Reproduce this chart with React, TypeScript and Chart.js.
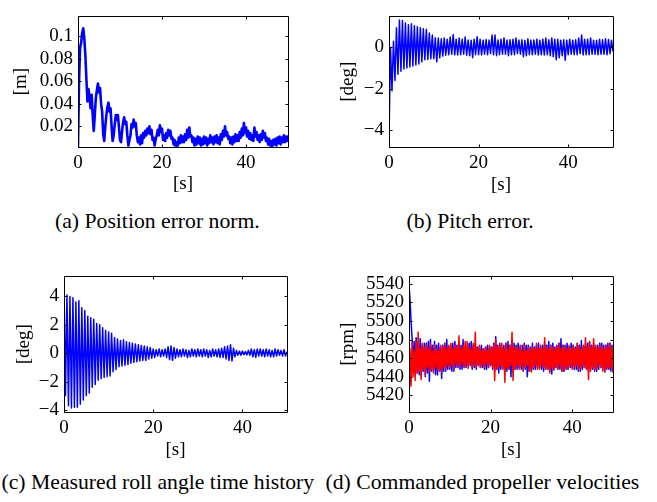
import React, { useEffect, useRef } from "react";
import { Chart, registerables } from "chart.js";

Chart.register(...registerables);

const SERIF = '"Liberation Serif", "Times New Roman", Times, serif';

// sampling steps (s)
const DT_POS = 0.25;
const DT_ATT = 1 / 3;
const DT_RPM = 0.25;

// (a) position error norm [m], sampled every 0.25 s
const POS_ERR = [
  0.002, 0.06, 0.09, 0.094,
  0.103, 0.107, 0.098, 0.083,
  0.062, 0.042, 0.053, 0.046,
  0.036, 0.048, 0.03, 0.016,
  0.03, 0.045, 0.052, 0.058,
  0.05, 0.054, 0.04, 0.033,
  0.013, 0.007, 0.02, 0.03,
  0.037, 0.041, 0.033, 0.036,
  0.02, 0.007, 0.012, 0.022,
  0.03, 0.026, 0.03, 0.019,
  0.008, 0.006, 0.016, 0.024,
  0.028, 0.022, 0.024, 0.012,
  0.003, 0.008, 0.012, 0.022,
  0.019, 0.026, 0.02, 0.023,
  0.012, 0.006, 0.01, 0.004,
  0.012, 0.005, 0.014, 0.01,
  0.016, 0.012, 0.018, 0.014,
  0.02, 0.013, 0.017, 0.008,
  0.01, 0.003, 0.009, 0.012,
  0.017, 0.012, 0.021, 0.015,
  0.018, 0.008, 0.012, 0.007,
  0.014, 0.01, 0.017, 0.012,
  0.016, 0.009, 0.01, 0.004,
  0.008, 0.002, 0.006, 0.003,
  0.01, 0.005, 0.012, 0.006,
  0.011, 0.006, 0.013, 0.008,
  0.017, 0.01, 0.019, 0.011,
  0.012, 0.006, 0.01, 0.003,
  0.009, 0.004, 0.011, 0.005,
  0.01, 0.003, 0.009, 0.004,
  0.011, 0.005, 0.01, 0.003,
  0.009, 0.005, 0.012, 0.006,
  0.01, 0.004, 0.011, 0.006,
  0.012, 0.005, 0.01, 0.004,
  0.013, 0.008, 0.016, 0.011,
  0.02, 0.012, 0.015, 0.009,
  0.011, 0.005, 0.01, 0.004,
  0.011, 0.006, 0.013, 0.007,
  0.012, 0.007, 0.015, 0.01,
  0.018, 0.012, 0.023, 0.014,
  0.019, 0.011, 0.016, 0.009,
  0.014, 0.008, 0.012, 0.007,
  0.019, 0.011, 0.015, 0.008,
  0.012, 0.006, 0.013, 0.008,
  0.016, 0.01, 0.014, 0.007,
  0.01, 0.004, 0.009, 0.003,
  0.007, 0.002, 0.008, 0.004,
  0.009, 0.003, 0.01, 0.005,
  0.011, 0.004, 0.01, 0.006,
  0.012, 0.006, 0.011, 0.007,
  0.012,
];

// (b) pitch error [deg], every 1/3 s
const PITCH_ERR = [
  -4.4, 0.0, -2.1, 0.3, -1.6, 0.95,
  -1.3, 1.33, -1.15, 1.3, -1.05, 1.18,
  -1.0, 1.1, -0.95, 1.15, -0.9, 1.05,
  -0.85, 1.0, -0.8, 0.95, -0.7, 0.9,
  -0.6, 0.88, -0.58, 0.7, -0.55, 0.6,
  -0.55, 0.47, -0.7, 0.45, -0.5, 0.42,
  -0.42, 0.45, -0.38, 0.4, -0.35, 0.5,
  -0.33, 0.62, -0.36, 0.4, -0.37, 0.45,
  -0.35, 0.4, -0.33, 0.5, -0.38, 0.36,
  -0.4, 0.35, -0.5, 0.4, -0.35, 0.52,
  -0.35, 0.4, -0.37, 0.35, -0.33, 0.38,
  -0.35, 0.36, -0.3, 0.6, -0.35, 0.6,
  -0.4, 0.36, -0.35, 0.4, -0.33, 0.46,
  -0.33, 0.36, -0.4, 0.37, -0.35, 0.4,
  -0.35, 0.46, -0.3, 0.36, -0.33, 0.37,
  -0.45, 0.33, -0.4, 0.42, -0.35, 0.36,
  -0.35, 0.36, -0.33, 0.4, -0.37, 0.35,
  -0.35, 0.4, -0.37, 0.45, -0.35, 0.37,
  -0.4, 0.46, -0.45, 0.4, -0.6, 0.4,
  -0.5, 0.35, -0.4, 0.37, -0.62, 0.35,
  -0.35, 0.4, -0.33, 0.35, -0.35, 0.37,
  -0.35, 0.45, -0.3, 0.6, -0.37, 0.4,
  -0.35, 0.4, -0.35, 0.46, -0.33, 0.35,
  -0.33, 0.35, -0.35, 0.4, -0.33, 0.37,
  -0.33, 0.42, -0.35, 0.38, -0.3, 0.35,
  -0.2,
];

// (c) measured roll angle [deg], every 1/3 s
const ROLL = [
  4.9, -3.0, 4.1, -3.7, 4.0, -3.85,
  3.9, -3.8, 3.6, -3.8, 3.7, -3.6,
  3.2, -3.3, 3.0, -3.0, 2.6, -2.8,
  2.5, -2.4, 2.4, -2.2, 2.1, -1.9,
  2.0, -1.8, 1.8, -1.7, 1.6, -1.65,
  1.5, -1.6, 1.4, -1.3, 1.1, -1.15,
  1.0, -0.95, 0.9, -0.9, 0.95, -0.85,
  0.8, -0.8, 0.75, -0.7, 0.7, -0.65,
  0.65, -0.6, 0.6, -0.55, 0.55, -0.5,
  0.5, -0.5, 0.45, -0.4, 0.4, -0.35,
  0.3, -0.3, 0.25, -0.2, 0.3, -0.25,
  0.25, -0.2, 0.3, -0.3, 0.45, -0.45,
  0.5, -0.5, 0.4, -0.35, 0.3, -0.25,
  0.25, -0.25, 0.3, -0.2, 0.25, -0.3,
  0.2, -0.25, 0.3, -0.2, 0.25, -0.25,
  0.3, -0.2, 0.25, -0.25, 0.3, -0.2,
  0.25, -0.3, 0.2, -0.25, 0.3, -0.2,
  0.25, -0.25, 0.3, -0.3, 0.35, -0.3,
  0.45, -0.4, 0.5, -0.5, 0.6, -0.55,
  0.35, -0.25, 0.2, -0.15, 0.15, -0.15,
  0.15, -0.1, 0.12, -0.12, 0.2, -0.15,
  0.3, -0.25, 0.25, -0.3, 0.3, -0.2,
  0.3, -0.2, 0.25, -0.25, 0.3, -0.2,
  0.25, -0.25, 0.2, -0.25, 0.3, -0.2,
  0.25, -0.15, 0.2, -0.2, 0.25, -0.2,
  0.1,
];

// (d) commanded propeller velocities [rpm], every 0.25 s
const RPM_BLUE = [
  5540, 5522, 5500, 5482, 5446, 5478, 5444, 5482,
  5444, 5478, 5442, 5481, 5440, 5474, 5446, 5476,
  5440, 5476, 5444, 5478, 5435, 5480, 5446, 5474,
  5446, 5478, 5442, 5474, 5442, 5476, 5446, 5472,
  5438, 5474, 5446, 5476, 5446, 5480, 5448, 5472,
  5448, 5474, 5446, 5476, 5446, 5478, 5450, 5474,
  5450, 5476, 5448, 5474, 5448, 5480, 5450, 5472,
  5450, 5474, 5452, 5476, 5452, 5478, 5448, 5474,
  5450, 5474, 5448, 5472, 5452, 5472, 5450, 5474,
  5450, 5470, 5448, 5472, 5448, 5474, 5450, 5472,
  5452, 5472, 5448, 5476, 5446, 5483, 5448, 5474,
  5444, 5476, 5448, 5472, 5450, 5474, 5448, 5476,
  5446, 5478, 5448, 5474, 5440, 5480, 5446, 5476,
  5448, 5474, 5448, 5476, 5450, 5472, 5448, 5474,
  5446, 5476, 5448, 5474, 5440, 5474, 5446, 5472,
  5446, 5476, 5448, 5472, 5448, 5474, 5450, 5476,
  5450, 5472, 5448, 5474, 5446, 5476, 5448, 5474,
  5448, 5478, 5446, 5474, 5443, 5476, 5448, 5472,
  5450, 5474, 5448, 5476, 5448, 5481, 5446, 5474,
  5446, 5474, 5448, 5476, 5448, 5472, 5450, 5476,
  5450, 5474, 5448, 5472, 5448, 5476, 5446, 5474,
  5446, 5479, 5448, 5472, 5450, 5474, 5448, 5476,
  5446, 5478, 5448, 5474, 5448, 5476, 5446, 5472,
  5446, 5474, 5448, 5476, 5450, 5476, 5448, 5474,
  5445, 5474, 5448, 5476, 5448, 5476, 5446, 5474,
  5446,
];
const RPM_RED = [
  5405, 5470, 5430, 5476, 5440, 5468, 5436, 5478,
  5444, 5488, 5446, 5470, 5437, 5476, 5448, 5472,
  5442, 5474, 5450, 5470, 5445, 5476, 5448, 5468,
  5444, 5474, 5450, 5470, 5448, 5468, 5446, 5474,
  5445, 5472, 5450, 5476, 5448, 5470, 5452, 5474,
  5450, 5476, 5452, 5470, 5448, 5474, 5454, 5472,
  5452, 5484, 5450, 5470, 5454, 5474, 5450, 5478,
  5452, 5478, 5449, 5472, 5454, 5470, 5450, 5476,
  5452, 5488, 5450, 5470, 5453, 5474, 5450, 5468,
  5453, 5470, 5450, 5472, 5454, 5468, 5450, 5474,
  5454, 5470, 5450, 5474, 5436, 5480, 5448, 5472,
  5450, 5474, 5452, 5476, 5448, 5470, 5434, 5476,
  5450, 5470, 5448, 5474, 5452, 5488, 5436, 5472,
  5448, 5472, 5452, 5470, 5448, 5474, 5452, 5468,
  5447, 5474, 5450, 5468, 5452, 5472, 5446, 5470,
  5445, 5472, 5450, 5470, 5452, 5476, 5448, 5470,
  5448, 5474, 5452, 5470, 5450, 5482, 5448, 5472,
  5448, 5470, 5444, 5474, 5450, 5472, 5447, 5470,
  5450, 5472, 5448, 5476, 5452, 5470, 5446, 5474,
  5446, 5472, 5450, 5470, 5448, 5474, 5452, 5470,
  5448, 5474, 5450, 5470, 5452, 5476, 5448, 5472,
  5448, 5470, 5452, 5474, 5450, 5482, 5448, 5472,
  5437, 5478, 5446, 5472, 5450, 5481, 5448, 5474,
  5448, 5470, 5452, 5474, 5450, 5472, 5446, 5470,
  5446, 5474, 5450, 5472, 5448, 5476, 5450, 5472,
  5444,
];

// ticks
const X_TICKS = [0, 20, 40];
const X_LABELS = ["0", "20", "40"];
const A_TICKS = [0.02, 0.04, 0.06, 0.08, 0.1];
const A_LABELS = ["0.02", "0.04", "0.06", "0.08", "0.1"];
const B_TICKS = [-4, -2, 0];
const B_LABELS = ["\u22124", "\u22122", "0"];
const C_TICKS = [-4, -2, 0, 2, 4];
const C_LABELS = ["\u22124", "\u22122", "0", "2", "4"];
const D_TICKS = [5420, 5440, 5460, 5480, 5500, 5520, 5540];
const D_LABELS = ["5420", "5440", "5460", "5480", "5500", "5520", "5540"];

const boxPlugin = {
  id: "matlabBox",
  afterDatasetsDraw(chart: any) {
    const { ctx, chartArea: a, scales } = chart;
    const xs = scales.x;
    const ys = scales.y;
    const L = Math.round(a.left) + 0.5;
    const R = Math.round(a.right) + 0.5;
    const T = Math.round(a.top) + 0.5;
    const B = Math.round(a.bottom) + 0.5;
    const tl = 3;
    ctx.save();
    ctx.strokeStyle = "#000";
    ctx.lineWidth = 1;
    ctx.beginPath();
    ctx.rect(L, T, R - L, B - T);
    xs.ticks.forEach((t: any) => {
      const p = Math.round(xs.getPixelForValue(t.value)) + 0.5;
      ctx.moveTo(p, B);
      ctx.lineTo(p, B - tl);
      ctx.moveTo(p, T);
      ctx.lineTo(p, T + tl);
    });
    ys.ticks.forEach((t: any) => {
      const p = Math.round(ys.getPixelForValue(t.value)) + 0.5;
      ctx.moveTo(L, p);
      ctx.lineTo(L + tl, p);
      ctx.moveTo(R, p);
      ctx.lineTo(R - tl, p);
    });
    ctx.stroke();
    ctx.restore();
  },
};

type Series = { values: number[]; dt: number; color: string; width: number; order: number };

type PanelCfg = {
  cx: number; cy: number; w: number; h: number;
  pt: number; pr: number; yW: number; xH: number;
  yMin: number; yMax: number;
  yTicks: number[]; yLabels: string[]; yTitle: string;
  series: Series[];
};

const PANELS: PanelCfg[] = [
  {
    cx: 10, cy: 0, w: 286, h: 195, pt: 8, pr: 8, yW: 68, xH: 48,
    yMin: 0.0017, yMax: 0.1175, yTicks: A_TICKS, yLabels: A_LABELS, yTitle: "[m]",
    series: [{ values: POS_ERR, dt: DT_POS, color: "#0000ff", width: 2.6, order: 0 }],
  },
  {
    cx: 337, cy: 0, w: 284, h: 196, pt: 8, pr: 8, yW: 52, xH: 49,
    yMin: -4.82, yMax: 1.5, yTicks: B_TICKS, yLabels: B_LABELS, yTitle: "[deg]",
    series: [{ values: PITCH_ERR, dt: DT_ATT, color: "#0000ff", width: 1.5, order: 0 }],
  },
  {
    cx: 13, cy: 260, w: 282, h: 201, pt: 12, pr: 8, yW: 51, xH: 49,
    yMin: -4.14, yMax: 5.41, yTicks: C_TICKS, yLabels: C_LABELS, yTitle: "[deg]",
    series: [{ values: ROLL, dt: DT_ATT, color: "#0000ff", width: 1.5, order: 0 }],
  },
  {
    cx: 337, cy: 260, w: 284, h: 201, pt: 12, pr: 8, yW: 72, xH: 49,
    yMin: 5402, yMax: 5548, yTicks: D_TICKS, yLabels: D_LABELS, yTitle: "[rpm]",
    series: [
      { values: RPM_BLUE, dt: DT_RPM, color: "#0000ff", width: 1.5, order: 1 },
      { values: RPM_RED, dt: DT_RPM, color: "#ff0000", width: 1.5, order: 0 },
    ],
  },
];

const CAPTIONS = [
  { text: "(a) Position error norm.", left: 55, top: 211 },
  { text: "(b) Pitch error.", left: 406.5, top: 211 },
  { text: "(c) Measured roll angle time history", left: 1.5, top: 471.5 },
  { text: "(d) Commanded propeller velocities", left: 325.5, top: 471.5 },
];

function Panel({ cfg }: { cfg: PanelCfg }) {
  const ref = useRef<HTMLCanvasElement>(null);
  useEffect(() => {
    const font = { family: SERIF, size: 19 };
    const chart = new Chart(ref.current as HTMLCanvasElement, {
      type: "line",
      data: {
        datasets: cfg.series.map((s) => ({
          data: s.values.map((y, i) => ({ x: i * s.dt, y })),
          borderColor: s.color,
          borderWidth: s.width,
          pointRadius: 0,
          borderJoinStyle: "round",
          fill: false,
          tension: 0,
          order: s.order,
        })),
      },
      options: {
        animation: false,
        responsive: false,
        maintainAspectRatio: false,
        devicePixelRatio: 1,
        events: [],
        layout: { padding: { left: 0, top: cfg.pt, right: cfg.pr, bottom: 0 } },
        plugins: { legend: { display: false }, tooltip: { enabled: false } },
        scales: {
          x: {
            type: "linear",
            min: 0,
            max: 50,
            grid: { display: false, drawTicks: false },
            border: { display: false },
            ticks: {
              autoSkip: false,
              maxRotation: 0,
              padding: 5,
              color: "#000",
              font,
              callback: (_v: any, i: number) => X_LABELS[i],
            },
            afterBuildTicks: (s: any) => {
              s.ticks = X_TICKS.map((v) => ({ value: v }));
            },
            afterFit: (s: any) => {
              s.height = cfg.xH;
            },
            title: { display: true, text: "[s]", color: "#000", font, padding: 0 },
          },
          y: {
            type: "linear",
            min: cfg.yMin,
            max: cfg.yMax,
            grid: { display: false, drawTicks: false },
            border: { display: false },
            ticks: {
              autoSkip: false,
              padding: 5,
              color: "#000",
              font,
              callback: (_v: any, i: number) => cfg.yLabels[i],
            },
            afterBuildTicks: (s: any) => {
              s.ticks = cfg.yTicks.map((v) => ({ value: v }));
            },
            afterFit: (s: any) => {
              s.width = cfg.yW;
            },
            title: { display: true, text: cfg.yTitle, color: "#000", font, padding: 0 },
          },
        },
      } as any,
      plugins: [boxPlugin],
    });
    return () => chart.destroy();
  }, []);
  return (
    <canvas
      ref={ref}
      width={cfg.w}
      height={cfg.h}
      style={{ position: "absolute", left: cfg.cx, top: cfg.cy, width: cfg.w, height: cfg.h }}
    />
  );
}

export default function App() {
  return (
    <div
      style={{
        position: "absolute",
        left: 0,
        top: 0,
        width: 657,
        height: 502,
        background: "#fff",
        overflow: "hidden",
      }}
    >
      {PANELS.map((p, i) => (
        <Panel key={i} cfg={p} />
      ))}
      {CAPTIONS.map((c, i) => (
        <div
          key={i}
          style={{
            position: "absolute",
            left: c.left,
            top: c.top,
            fontFamily: SERIF,
            fontSize: 21.7,
            lineHeight: "21.7px",
            whiteSpace: "nowrap",
            color: "#000",
          }}
        >
          {c.text}
        </div>
      ))}
    </div>
  );
}
